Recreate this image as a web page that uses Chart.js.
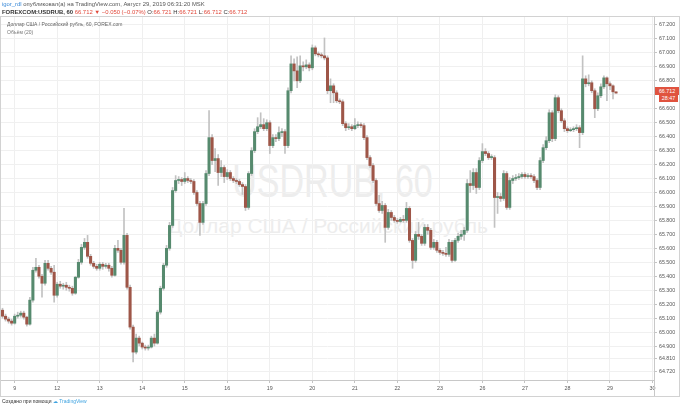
<!DOCTYPE html>
<html><head><meta charset="utf-8">
<script src="https://cdn.jsdelivr.net/npm/chart.js@4.4.1/dist/chart.umd.min.js"></script>
<style>
html,body{margin:0;padding:0;background:#fff;}
#wrap{position:relative;width:680px;height:410px;overflow:hidden;font-family:"Liberation Sans",Arial,sans-serif;color:#555;}
.abs{position:absolute;white-space:nowrap;}
#frame{position:absolute;left:0;top:16px;width:680px;height:381px;border:1px solid #d2d2d2;box-sizing:border-box;}
#c{position:absolute;left:0;top:0;}
.wm1{left:-8px;top:158px;width:680px;text-align:center;font-size:46px;line-height:46px;color:#ededed;}
.wm1 span{display:inline-block;transform:scaleX(0.74);}
.wm2{left:-12px;top:215px;width:680px;text-align:center;font-size:21px;line-height:21px;color:#ededed;}
.red{color:#e0483a;}
</style></head>
<body><div id="wrap">
<div id="frame"></div>
<div class="abs wm1"><span>USDRUB, 60</span></div>
<div class="abs wm2">Доллар США / Российский рубль</div>
<canvas id="c" width="680" height="410"></canvas>
<div class="abs" style="left:2px;top:1px;font-size:5.9px;line-height:7px;"><span style="color:#3b8ad8">igor_rdl</span> опубликовал(а) на TradingView.com, Август 29, 2019 06:31:20 MSK</div>
<div class="abs" style="left:2px;top:9px;font-size:5.9px;line-height:7px;font-weight:bold;color:#333">FOREXCOM:USDRUB, 60 <span class="red" style="font-weight:normal">66.712 ▼ −0.050 (−0.07%)</span> <span style="font-weight:normal">O:</span><span class="red" style="font-weight:normal">66.721</span> <span style="font-weight:normal">H:</span><span class="red" style="font-weight:normal">66.721</span> <span style="font-weight:normal">L:</span><span class="red" style="font-weight:normal">66.712</span> <span style="font-weight:normal">C:</span><span class="red" style="font-weight:normal">66.712</span></div>
<div class="abs" style="left:7px;top:21px;font-size:5px;line-height:6px;color:#666">Доллар США / Российский рубль, 60, FOREX.com</div>
<div class="abs" style="left:7px;top:29px;font-size:5px;line-height:6px;color:#777">Объём (20)</div>
<div class="abs" style="left:654px;top:380px;width:1px;height:16px;background:#c8c8c8"></div>
<div class="abs" style="left:655px;top:87px;width:24px;height:8px;background:#e0533f;color:#fff;font-size:5.3px;line-height:8px;text-align:center">66.712</div>
<div class="abs" style="left:659px;top:95px;width:19px;height:7px;background:#e0533f;color:#fff;font-size:5.3px;line-height:7px;text-align:center">28:47</div>
<div class="abs" style="left:2px;top:398px;font-size:5px;line-height:7px;color:#333">Создано при помощи <span style="color:#3fa3e0">☁ TradingView</span></div>
</div>
<script>
// ---- data (hourly candles, USD/RUB, FOREX.com) ----
const dayLabels = ["9","12","13","14","15","16","19","20","21","22","23","26","27","28","29","30"];
const barsPerDay = 14;
const firstDayIndex = 4;
const firstOpen = 65.157;
const closes = [
65.114,65.093,65.079,65.064,65.114,65.121,65.136,65.107,65.057,65.229,
65.443,65.464,65.400,65.350,65.493,65.457,65.429,65.264,65.343,65.329,
65.336,65.321,65.314,65.279,65.393,65.500,65.607,65.643,65.543,65.493,
65.471,65.457,65.486,65.471,65.479,65.457,65.407,65.600,65.586,65.500,
65.693,65.321,65.036,64.857,64.957,64.921,64.893,64.886,64.893,64.957,
64.921,65.143,65.314,65.479,65.600,65.764,66.014,66.086,66.093,66.079,
66.100,66.086,66.079,66.000,65.921,65.786,65.921,66.136,66.393,66.229,
66.243,66.143,66.179,66.114,66.143,66.100,66.086,66.079,66.057,66.043,
65.893,66.136,66.300,66.436,66.471,66.486,66.457,66.500,66.336,66.393,
66.386,66.429,66.436,66.336,66.729,66.921,66.871,66.800,66.907,66.900,
66.914,66.893,67.036,66.993,66.986,66.979,66.964,66.729,66.764,66.714,
66.657,66.650,66.493,66.464,66.471,66.457,66.479,66.486,66.479,66.393,
66.250,66.193,66.086,65.921,65.871,65.907,65.750,65.857,65.821,65.800,
65.793,65.807,65.800,65.886,65.657,65.514,65.700,65.686,65.636,65.750,
65.729,65.607,65.643,65.586,65.571,65.564,65.557,65.643,65.514,65.657,
65.686,65.700,65.729,66.064,66.050,66.143,66.036,66.229,66.293,66.279,
66.250,66.250,65.964,65.971,65.957,66.136,65.893,66.086,66.100,66.107,
66.114,66.129,66.114,66.121,66.114,66.086,66.036,66.229,66.321,66.371,
66.571,66.386,66.679,66.586,66.514,66.457,66.443,66.450,66.457,66.464,
66.429,66.814,66.779,66.786,66.729,66.600,66.693,66.757,66.821,66.779,
66.764,66.721,66.712];
const highs = [
65.171,65.129,65.107,65.093,65.129,65.143,65.150,65.150,65.114,65.250,
65.464,65.529,65.479,65.414,65.514,65.514,65.471,65.479,65.357,65.364,
65.350,65.357,65.336,65.329,65.400,65.521,65.629,65.671,65.693,65.557,
65.507,65.486,65.500,65.500,65.493,65.493,65.471,65.621,65.657,65.600,
65.886,65.707,65.336,65.050,64.986,64.971,64.929,64.907,64.907,64.971,
64.986,65.157,65.329,65.493,65.621,65.786,66.036,66.121,66.114,66.107,
66.143,66.114,66.100,66.093,66.014,65.936,65.936,66.157,66.586,66.414,
66.314,66.271,66.229,66.193,66.164,66.157,66.114,66.100,66.093,66.071,
66.057,66.150,66.321,66.457,66.536,66.571,66.529,66.521,66.514,66.414,
66.414,66.471,66.457,66.450,66.750,66.979,66.957,66.971,66.979,66.936,
66.950,66.929,67.057,67.050,67.007,67.000,67.107,66.979,66.814,66.779,
66.729,66.671,66.664,66.507,66.493,66.486,66.529,66.507,66.500,66.493,
66.407,66.264,66.207,66.100,65.979,65.936,65.921,65.879,65.871,65.836,
65.814,65.821,65.836,65.929,65.900,65.671,65.721,65.786,65.700,65.771,
65.771,65.743,65.664,65.657,65.600,65.586,65.607,65.664,65.657,65.671,
65.707,65.729,65.750,66.093,66.157,66.171,66.171,66.250,66.350,66.314,
66.293,66.271,66.264,66.000,65.993,66.157,66.150,66.107,66.121,66.129,
66.136,66.143,66.143,66.136,66.136,66.129,66.100,66.250,66.343,66.400,
66.593,66.586,66.700,66.693,66.600,66.529,66.471,66.464,66.471,66.486,
66.479,66.979,66.836,66.843,66.800,66.743,66.714,66.779,66.836,66.829,
66.793,66.771,66.721];
const lows = [
65.100,65.079,65.064,65.050,65.057,65.100,65.107,65.093,65.043,65.050,
65.214,65.429,65.386,65.250,65.336,65.443,65.414,65.214,65.250,65.314,
65.307,65.300,65.293,65.264,65.271,65.386,65.486,65.593,65.529,65.479,
65.457,65.443,65.443,65.450,65.457,65.436,65.393,65.400,65.571,65.486,
65.486,65.307,65.021,64.786,64.843,64.900,64.879,64.871,64.871,64.886,
64.900,64.914,65.129,65.300,65.464,65.586,65.750,66.000,66.064,66.050,
66.064,66.071,66.064,65.986,65.907,65.693,65.771,65.907,66.121,66.200,
66.150,66.050,66.114,66.071,66.093,66.086,66.071,66.064,66.043,65.986,
65.871,65.879,66.121,66.286,66.421,66.457,66.443,66.443,66.279,66.321,
66.364,66.371,66.400,66.279,66.321,66.714,66.800,66.750,66.786,66.871,
66.886,66.871,66.879,66.979,66.971,66.964,66.950,66.707,66.643,66.643,
66.643,66.636,66.479,66.443,66.450,66.443,66.450,66.464,66.464,66.379,
66.236,66.179,66.071,65.907,65.857,65.850,65.643,65.736,65.800,65.786,
65.779,65.786,65.786,65.786,65.643,65.457,65.500,65.664,65.621,65.621,
65.700,65.593,65.593,65.571,65.557,65.550,65.543,65.543,65.500,65.507,
65.643,65.664,65.657,65.714,66.000,66.021,65.993,66.021,66.214,66.264,
66.236,66.236,65.750,65.850,65.936,65.943,65.879,65.879,66.064,66.086,
66.093,66.100,66.100,66.100,66.100,66.071,66.021,66.021,66.214,66.307,
66.357,66.364,66.371,66.571,66.500,66.436,66.429,66.436,66.436,66.443,
66.321,66.414,66.757,66.764,66.714,66.536,66.586,66.679,66.743,66.657,
66.736,66.671,66.712];
const yTicks = [64.72,64.81,64.9,65.0,65.1,65.2,65.3,65.4,65.5,65.6,65.7,65.8,65.9,66.0,66.1,66.2,66.3,66.4,66.5,66.6,66.7,66.8,66.9,67.0,67.1,67.2];
const yMin = 64.657, yMax = 67.257;

// ---- build ----
const UP = 'rgb(86,138,110)', DOWN = 'rgb(158,86,72)', WICK = '#c2c2c2';
const opens = closes.map((c, i) => i === 0 ? firstOpen : closes[i - 1]);
const nSlots = firstDayIndex + (dayLabels.length - 1) * barsPerDay + 1;
const dayTickIdx = dayLabels.map((_, k) => firstDayIndex + k * barsPerDay);
const labels = Array.from({length: nSlots}, (_, i) => {
  const k = dayTickIdx.indexOf(i);
  return k >= 0 ? dayLabels[k] : '';
});
const FONT = {family: '"Liberation Sans", Arial, sans-serif', size: 5.3};

new Chart(document.getElementById('c').getContext('2d'), {
  type: 'bar',
  data: {
    labels: labels,
    datasets: [
      {label: 'body', data: closes.map((c, i) => [opens[i], c]),
       backgroundColor: closes.map((c, i) => c >= opens[i] ? UP : DOWN),
       barThickness: 2.4, grouped: false, order: 0, minBarLength: 1, borderWidth: 0},
      {label: 'wick', data: closes.map((c, i) => [lows[i], highs[i]]),
       backgroundColor: WICK, barThickness: 1, grouped: false, order: 1, borderWidth: 0}
    ]
  },
  options: {
    responsive: false, animation: false, devicePixelRatio: 1,
    layout: {padding: {left: 1, top: 17, right: 0, bottom: 14}},
    plugins: {legend: {display: false}, tooltip: {enabled: false}},
    scales: {
      x: {
        type: 'category', offset: true,
        grid: {offset: false, color: '#efefef', tickLength: 3, tickColor: '#c4c4c4'},
        border: {color: '#c8c8c8'},
        ticks: {autoSkip: false, maxRotation: 0, font: FONT, color: '#555', padding: 2},
        afterBuildTicks: s => { s.ticks = dayTickIdx.map(v => ({value: v})); },
        afterFit: s => { s.height = 16; }
      },
      y: {
        position: 'right', min: yMin, max: yMax,
        grid: {color: '#f0f0f0', tickLength: 3, tickColor: '#c4c4c4'},
        border: {color: '#c8c8c8'},
        ticks: {font: FONT, color: '#555', padding: 2, callback: v => Number(v).toFixed(3)},
        afterBuildTicks: s => { s.ticks = yTicks.map(v => ({value: v})); },
        afterFit: s => { s.width = 26; }
      }
    }
  }
});
</script>
</body></html>
